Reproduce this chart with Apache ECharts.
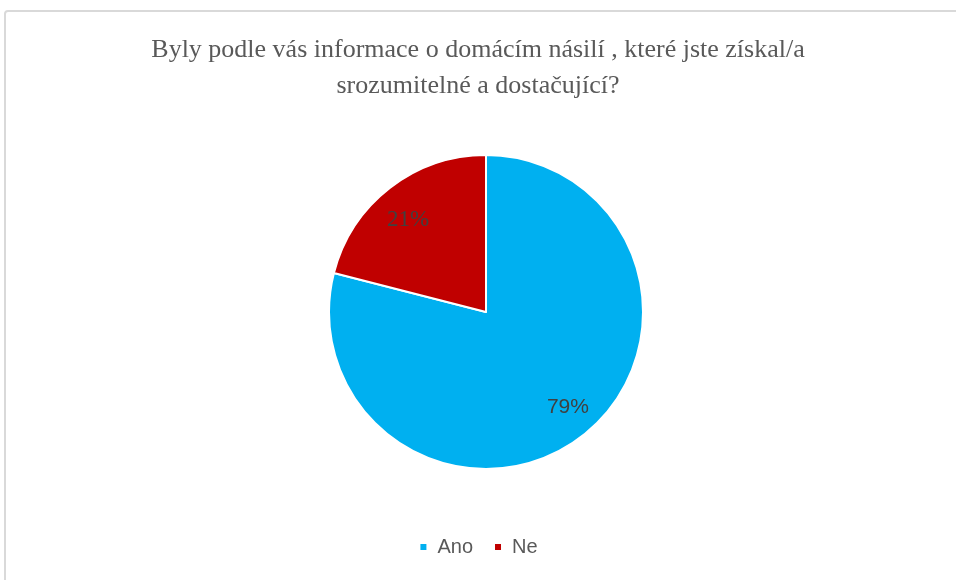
<!DOCTYPE html>
<html>
<head>
<meta charset="utf-8">
<style>
  html, body { margin: 0; padding: 0; background: #fff; }
  #main { width: 956px; height: 580px; }
</style>
<script src="https://cdn.jsdelivr.net/npm/echarts@6/dist/echarts.min.js"></script>
</head>
<body>
<div id="main"></div>
<script>
// data
var categories = ['Ano', 'Ne'];
var values = [79, 21];
var colors = ['#00B0F0', '#C00000'];
var titleText = 'Byly podle vás informace o domácím násilí , které jste získal/a\nsrozumitelné a dostačující?';

var serif = '"Liberation Serif", "Times New Roman", serif';
var sans = '"Liberation Sans", Arial, sans-serif';

var myChart = echarts.init(document.getElementById('main'));

// label tweaks to sit like the original (Excel puts them further out)
var labelStyles = [
  { offset: [32, 31], fontSize: 21, fontFamily: sans },
  { offset: [-28, -28], fontSize: 23, fontFamily: serif }
];

var pieData = categories.map(function (name, i) {
  return {
    name: name,
    value: values[i],
    itemStyle: { color: colors[i] },
    label: labelStyles[i]
  };
});

myChart.setOption({
  animation: false,
  title: {
    text: titleText,
    left: 'center',
    top: 27,
    textStyle: {
      fontFamily: serif,
      fontWeight: 'normal',
      fontSize: 26,
      lineHeight: 36,
      color: '#595959'
    }
  },
  legend: {
    data: categories,
    bottom: 18,
    left: 'center',
    icon: 'rect',
    itemWidth: 8,
    itemHeight: 8,
    itemGap: 20,
    textStyle: {
      fontFamily: sans,
      fontSize: 20,
      color: '#595959',
      padding: [0, 0, 0, 5]
    }
  },
  graphic: [{
    type: 'rect',
    shape: { x: 5, y: 11, width: 1000, height: 700, r: 3 },
    style: { fill: 'none', stroke: '#d9d9d9', lineWidth: 2 },
    silent: true
  }],
  series: [{
    type: 'pie',
    center: [486, 312],
    radius: 157,
    startAngle: 90,
    clockwise: true,
    itemStyle: { borderColor: '#fff', borderWidth: 2 },
    label: {
      show: true,
      position: 'inside',
      formatter: '{d}%',
      fontFamily: serif,
      color: '#404040'
    },
    labelLine: { show: false },
    data: pieData
  }]
});
</script>
</body>
</html>
